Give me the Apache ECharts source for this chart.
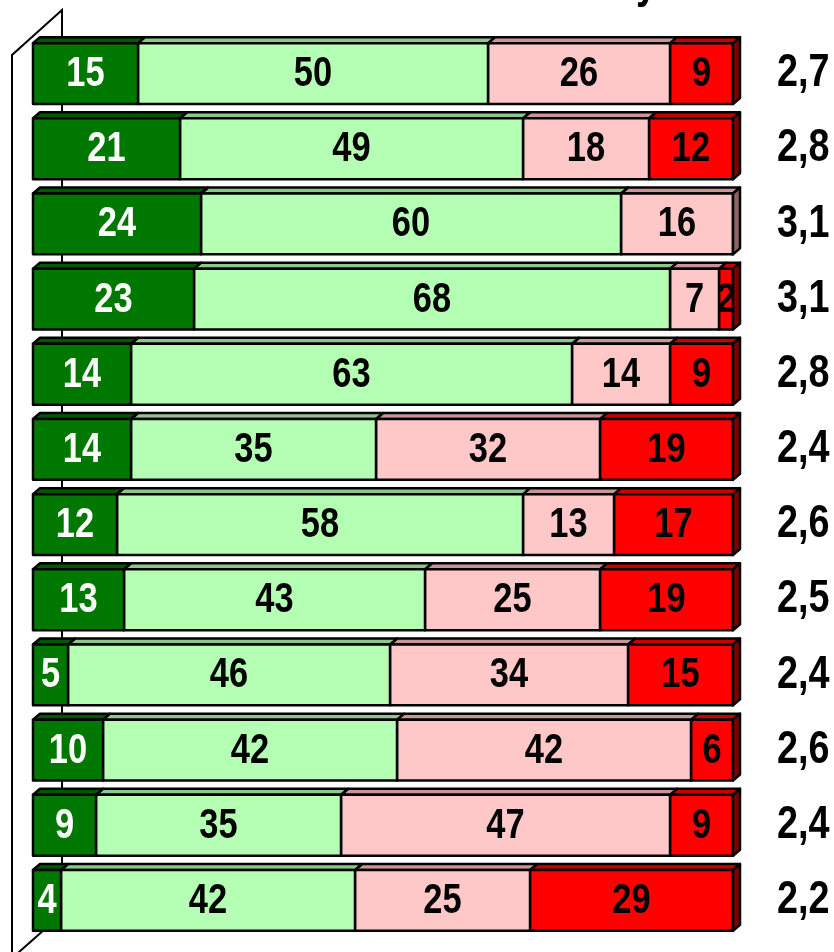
<!DOCTYPE html>
<html>
<head>
<meta charset="utf-8">
<script src="https://cdn.jsdelivr.net/npm/echarts@6/dist/echarts.min.js"></script>
<style>
  html, body { margin: 0; padding: 0; background: #fff; }
  #chart { width: 834px; height: 952px; }
</style>
</head>
<body>
<div id="chart"></div>
<script>
// rows top to bottom
const rows = ['1', '2', '3', '4', '5', '6', '7', '8', '9', '10', '11', '12'];
const veryGood = [15, 21, 24, 23, 14, 14, 12, 13, 5, 10, 9, 4];
const good = [50, 49, 60, 68, 63, 35, 58, 43, 46, 42, 35, 42];
const bad = [26, 18, 16, 7, 14, 32, 13, 25, 34, 42, 47, 25];
const veryBad = [9, 12, 0, 2, 9, 19, 17, 19, 15, 6, 9, 29];
const averages = [2.7, 2.8, 3.1, 3.1, 2.8, 2.4, 2.6, 2.5, 2.4, 2.6, 2.4, 2.2];

const parts = [veryGood, good, bad, veryBad];
const styles = [
    { front: '#007800', top: '#005800', side: '#004000', text: '#fff' },
    { front: '#b4ffb4', top: '#8cc88c', side: '#6a9a6a', text: '#000' },
    { front: '#ffc8c8', top: '#c89696', side: '#8c6464', text: '#000' },
    { front: '#ff0000', top: '#c80000', side: '#800000', text: '#000' }
];
const DX = 7, DY = 6;
const FONT = '"Liberation Sans", Arial, sans-serif';

// stacked start / end per segment
function segData(idx) {
    return rows.map((r, i) => {
        let start = 0;
        for (let k = 0; k < idx; k++) start += parts[k][i];
        const total = parts.reduce((s, p) => s + p[i], 0);
        return [start, start + parts[idx][i], i, parts[idx][i], total];
    });
}

function makeRender(st) {
    return function (params, api) {
        const v = api.value(3);
        if (!v) return null;
        const p0 = api.coord([api.value(0), api.value(2)]);
        const p1 = api.coord([api.value(1), api.value(2)]);
        const h = api.size([0, 1])[1] * 0.81;
        const x0 = p0[0], x1 = p1[0], y0 = p0[1] - h / 2;
        const line = { stroke: '#000', lineWidth: 2.5, lineJoin: 'round' };
        const children = [
            { type: 'polygon', shape: { points: [[x0, y0], [x0 + DX, y0 - DY], [x1 + DX, y0 - DY], [x1, y0]] },
              style: Object.assign({ fill: st.top }, line) },
            { type: 'rect', shape: { x: x0, y: y0, width: x1 - x0, height: h },
              style: Object.assign({ fill: st.front }, line) }
        ];
        if (api.value(1) === api.value(4)) {
            children.push({ type: 'polygon',
                shape: { points: [[x1, y0], [x1 + DX, y0 - DY], [x1 + DX, y0 + h - DY], [x1, y0 + h]] },
                style: Object.assign({ fill: st.side }, line) });
        }
        children.push({ type: 'text', x: (x0 + x1) / 2, y: p0[1] + 1, scaleX: 0.82,
            style: { text: String(v), fill: st.text, font: 'bold 42px ' + FONT, align: 'center', verticalAlign: 'middle' } });
        return { type: 'group', children };
    };
}

const series = parts.map((p, idx) => ({
    type: 'custom',
    renderItem: makeRender(styles[idx]),
    encode: { x: [0, 1], y: 2 },
    data: segData(idx),
    silent: true,
    z: 10 - idx
}));

series.push({
    type: 'custom',
    silent: true,
    data: averages.map((a, i) => [100, i, a]),
    encode: { x: 0, y: 1 },
    renderItem(params, api) {
        const p = api.coord([api.value(0), api.value(1)]);
        return { type: 'text', x: p[0] + 44, y: p[1], scaleX: 0.82,
            style: { text: api.value(2).toFixed(1).replace('.', ','), fill: '#000',
                     font: 'bold 46px ' + FONT, align: 'left', verticalAlign: 'middle' } };
    }
});

const chart = echarts.init(document.getElementById('chart'));
chart.setOption({
    animation: false,
    grid: { left: 33, right: 101, top: 36, bottom: 14 },
    xAxis: { type: 'value', min: 0, max: 100, show: false },
    yAxis: { type: 'category', data: rows, inverse: true, show: false },
    graphic: [
        { type: 'polyline', z: 0, shape: { points: [[62, 914], [62, 10], [12, 55], [12, 960]] },
          style: { stroke: '#000', lineWidth: 2, fill: null } },
        { type: 'line', z: 0, shape: { x1: 62, y1: 914, x2: 10, y2: 960 },
          style: { stroke: '#000', lineWidth: 2 } },
        { type: 'text', z: 0, x: 636, y: -39, scaleX: 0.82,
          style: { text: 'y', fill: '#000', font: 'bold 46px ' + FONT } }
    ],
    series
});
</script>
</body>
</html>
